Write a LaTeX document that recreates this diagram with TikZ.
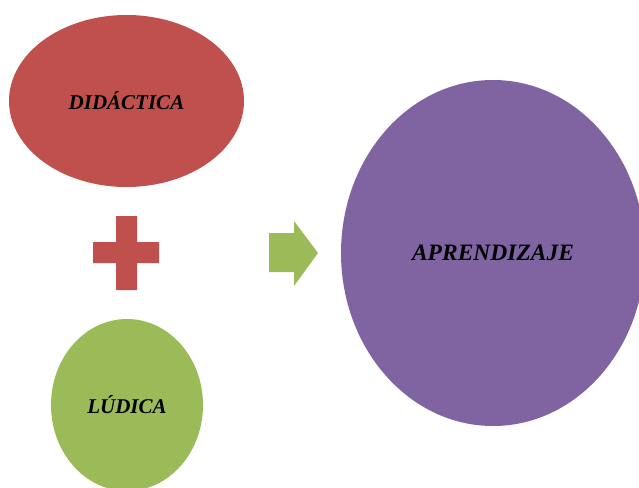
\documentclass[tikz,border=0pt]{standalone}
\usepackage{fontspec}
\setmainfont{Liberation Serif}
\usetikzlibrary{shapes.geometric}
\definecolor{cred}{HTML}{C0504D}
\definecolor{cgreen}{HTML}{9BBB59}
\definecolor{cpurple}{HTML}{8064A2}
\begin{document}
\begin{tikzpicture}[x=1pt,y=-1pt,
  blob/.style={ellipse, draw=none, inner sep=0pt, font=\fontsize{21}{24}\selectfont\bfseries\itshape, text=black},
]
\useasboundingbox (0,0) rectangle (639,487);
\clip (0,0) rectangle (639,487);
% ellipses
\node[blob, fill=cred, minimum width=235pt, minimum height=172pt] (did) at (126.5,101) {DIDÁCTICA};
\node[blob, fill=cgreen, minimum width=152pt, minimum height=172pt] (lud) at (127,405) {LÚDICA};
\node[blob, fill=cpurple, minimum width=304pt, minimum height=346pt, font=\fontsize{23.5}{26}\selectfont\bfseries\itshape] (apr) at (493,253) {APRENDIZAJE};
% plus sign
\fill[cred] (116,216) -- (137,216) -- (137,242) -- (159,242) -- (159,263) -- (137,263)
  -- (137,290) -- (116,290) -- (116,263) -- (93,263) -- (93,242) -- (116,242) -- cycle;
% arrow
\fill[cgreen] (269,233) -- (294,233) -- (294,221) -- (318,253) -- (294,286) -- (294,272)
  -- (269,272) -- cycle;
\end{tikzpicture}
\end{document}
